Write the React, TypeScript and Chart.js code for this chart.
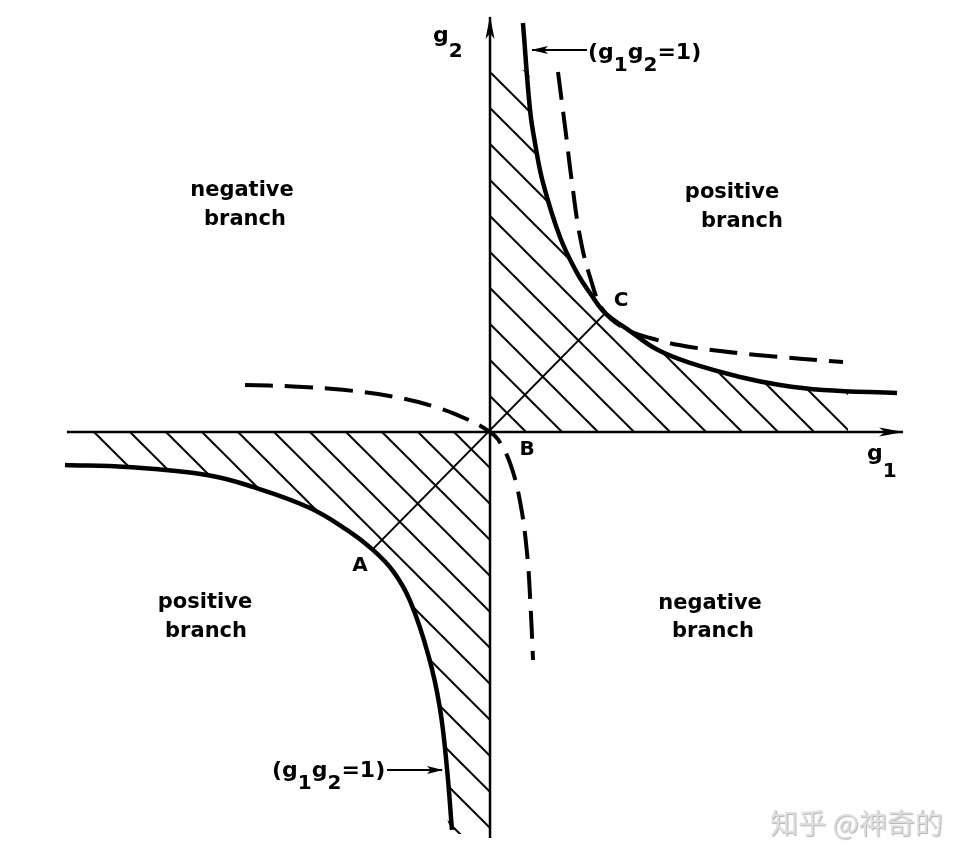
import React, { useEffect, useRef } from "react";
import { Chart, registerables } from "chart.js";

Chart.register(...registerables);

type P = [number, number];

// ---- values (g1, g2) ----
// solid boundary g1*g2 = 1, first quadrant
const boundaryQ1: P[] = [
  [0.284, 3.526], [0.345, 2.776], [0.388, 2.491], [0.457, 2.147], [0.603, 1.681],
  [0.75, 1.371], [0.862, 1.198], [0.991, 1.026], [1.207, 0.87], [1.44, 0.71],
  [1.724, 0.595], [2.155, 0.474], [2.5, 0.405], [2.871, 0.362], [3.509, 0.336],
];
// solid boundary g1*g2 = 1, third quadrant
const boundaryQ3: P[] = [
  [-3.664, -0.284], [-3.129, -0.302], [-2.44, -0.371], [-2.043, -0.474], [-1.552, -0.655],
  [-1.233, -0.845], [-1.009, -1.017], [-0.836, -1.2], [-0.69, -1.455], [-0.53, -1.93],
  [-0.432, -2.38], [-0.371, -2.9], [-0.328, -3.431],
];
// dashed curve, first quadrant branch
const dashedQ1: P[] = [
  [0.586, 3.103], [0.647, 2.629], [0.707, 2.147], [0.776, 1.681], [0.862, 1.336],
  [0.974, 1.052], [1.147, 0.9], [1.379, 0.81], [1.724, 0.733], [2.302, 0.664], [3.043, 0.603],
];
// dashed curve, branch through the origin (2nd -> 4th quadrant)
const dashedQ2Q4: P[] = [
  [-2.112, 0.405], [-1.698, 0.392], [-1.267, 0.363], [-0.836, 0.305], [-0.491, 0.222],
  [-0.198, 0.11], [0, 0], [0.07, -0.065], [0.172, -0.267], [0.259, -0.6],
  [0.319, -1.043], [0.348, -1.474], [0.371, -1.966],
];
// limits of the hatched (stable) regions
const hatchTopQ1: P[] = [[0, 3.1], [0.319, 3.1]];
const hatchEndQ1: P = [3.086, 0.353];
const hatchStartQ3: P = [-3.43, -0.292];
const hatchBottomQ3: P = [0, -3.431];
// straight line A - B - C
const lineAC: P[] = [[-1.01, -1.01], [0.99, 1.02]];
// axes
const g1Axis: P[] = [[-3.647, 0], [3.56, 0]];
const g2Axis: P[] = [[0, -3.5], [0, 3.578]];
// callout arrows
const calloutTopArrow: P[] = [[0.836, 3.293], [0.362, 3.293]];
const calloutBottomArrow: P[] = [[-0.888, -2.914], [-0.414, -2.914]];
// visible window
const g1Range: P = [-4.224, 4.172];
const g2Range: P = [-3.716, 3.724];

// ---- texts ----
const regionNames = ["negative branch", "positive branch", "positive branch", "negative branch"];
const pointNames = ["A", "B", "C"];
const calloutRuns = [
  { t: "(", sub: false }, { t: "g", sub: false }, { t: "1", sub: true },
  { t: "g", sub: false }, { t: "2", sub: true }, { t: "=1)", sub: false },
];
const g1Label = [{ t: "g", sub: false }, { t: "1", sub: true }];
const g2Label = [{ t: "g", sub: false }, { t: "2", sub: true }];
const watermark = "知乎 @神奇的";

// ---- annotation placement (data coordinates) ----
const regionAnchors: P[][] = [
  [[-2.138, 2.034], [-2.112, 1.784]],
  [[2.086, 2.017], [2.172, 1.767]],
  [[-2.457, -1.517], [-2.448, -1.767]],
  [[1.897, -1.526], [1.922, -1.767]],
];
const pointAnchors: P[] = [[-1.121, -1.155], [0.319, -0.155], [1.129, 1.129]];
const calloutAnchors: P[] = [[0.845, 3.216], [-1.879, -2.974]];
const g1LabelAnchor: P = [3.25, -0.241];
const g2LabelAnchor: P = [-0.491, 3.362];

const FONT = '"DejaVu Sans", sans-serif';

const toXY = (a: P[]) => a.map(([x, y]) => ({ x, y }));

function makeHatch(): CanvasPattern {
  const s = 36;
  const c = document.createElement("canvas");
  c.width = s;
  c.height = s;
  const g = c.getContext("2d")!;
  g.strokeStyle = "#000";
  g.lineWidth = 2;
  for (const d of [-s, 0, s]) {
    g.beginPath();
    g.moveTo(-4, -4 + d);
    g.lineTo(s + 4, s + 4 + d);
    g.stroke();
  }
  return g.createPattern(c, "repeat")!;
}

function drawRuns(ctx: CanvasRenderingContext2D, x: number, y: number, runs: any[], main: number, sub: number, drop: number) {
  let cx = x;
  ctx.textAlign = "left";
  ctx.textBaseline = "alphabetic";
  for (const r of runs) {
    ctx.font = `bold ${r.sub ? sub : main}px ${FONT}`;
    ctx.fillText(r.t, cx, r.sub ? y + drop : y);
    cx += ctx.measureText(r.t).width;
  }
}

export default function App() {
  const ref = useRef<HTMLCanvasElement>(null);

  useEffect(() => {
    const hatch = makeHatch();

    const stableQ1: P[] = [
      ...hatchTopQ1,
      ...boundaryQ1.filter(([x, y]) => y < hatchTopQ1[0][1] && x < hatchEndQ1[0]),
      hatchEndQ1,
    ];
    const stableQ3: P[] = [
      hatchStartQ3,
      ...boundaryQ3.filter(([x]) => x > hatchStartQ3[0]),
      hatchBottomQ3,
    ];

    const base = { pointRadius: 0, pointHoverRadius: 0, borderColor: "#000", fill: false, tension: 0 };
    const curve = { ...base, tension: 0.4, borderWidth: 4.5 };
    const dashed = { ...curve, borderWidth: 4, borderDash: [28, 12] };

    const overlay = {
      id: "overlay",
      beforeDatasetsDraw(chart: any) {
        const ox = chart.scales.x.getPixelForValue(0);
        const oy = chart.scales.y.getPixelForValue(0);
        hatch.setTransform(new DOMMatrix([1, 0, 0, 1, ox, oy]));
      },
      afterDatasetsDraw(chart: any) {
        const ctx: CanvasRenderingContext2D = chart.ctx;
        const X = (v: number) => chart.scales.x.getPixelForValue(v);
        const Y = (v: number) => chart.scales.y.getPixelForValue(v);
        ctx.save();
        ctx.fillStyle = "#000";
        // arrowheads
        chart.data.datasets.forEach((ds: any, i: number) => {
          const ah = ds.arrowHead;
          if (!ah) return;
          const pts = chart.getDatasetMeta(i).data;
          const a = pts[pts.length - 2];
          const b = pts[pts.length - 1];
          const ang = Math.atan2(b.y - a.y, b.x - a.x);
          ctx.save();
          ctx.translate(b.x, b.y);
          ctx.rotate(ang);
          ctx.beginPath();
          ctx.moveTo(1, 0);
          ctx.lineTo(-ah.len, -ah.half);
          ctx.lineTo(-ah.len * 0.75, 0);
          ctx.lineTo(-ah.len, ah.half);
          ctx.closePath();
          ctx.fill();
          ctx.restore();
        });
        // region labels
        ctx.font = `bold 21px ${FONT}`;
        ctx.textAlign = "center";
        ctx.textBaseline = "alphabetic";
        regionNames.forEach((name, i) => {
          name.split(" ").forEach((word, j) => {
            const [gx, gy] = regionAnchors[i][j];
            ctx.fillText(word, X(gx), Y(gy));
          });
        });
        // point labels
        ctx.font = `bold 20px ${FONT}`;
        ctx.textBaseline = "middle";
        pointNames.forEach((n, i) => ctx.fillText(n, X(pointAnchors[i][0]), Y(pointAnchors[i][1])));
        // callouts
        calloutAnchors.forEach(([gx, gy]) => drawRuns(ctx, X(gx), Y(gy), calloutRuns, 22, 20, 12));
        // axis labels
        drawRuns(ctx, X(g2LabelAnchor[0]), Y(g2LabelAnchor[1]), g2Label, 22, 20, 15);
        drawRuns(ctx, X(g1LabelAnchor[0]), Y(g1LabelAnchor[1]), g1Label, 22, 20, 17);
        // watermark
        ctx.font = `28px "Noto Sans CJK SC", sans-serif`;
        ctx.textAlign = "left";
        ctx.textBaseline = "alphabetic";
        ctx.shadowColor = "rgba(0,0,0,0.3)";
        ctx.shadowOffsetX = 1;
        ctx.shadowOffsetY = 1;
        ctx.shadowBlur = 1;
        ctx.fillStyle = "#dedede";
        ctx.fillText(watermark, chart.width - 204, chart.height - 29);
        ctx.restore();
      },
    };

    const chart = new Chart(ref.current!, {
      type: "line",
      data: {
        datasets: [
          { ...base, data: toXY(stableQ1), borderWidth: 0, borderColor: "transparent", backgroundColor: hatch, fill: "origin", tension: 0.4, order: 10 },
          { ...base, data: toXY(stableQ3), borderWidth: 0, borderColor: "transparent", backgroundColor: hatch, fill: "origin", tension: 0.4, order: 10 },
          { ...base, data: toXY(lineAC), borderWidth: 2, order: 6 },
          { ...base, data: toXY(g1Axis), borderWidth: 2.5, order: 5, arrowHead: { len: 24, half: 4.5 } },
          { ...base, data: toXY(g2Axis), borderWidth: 2.5, order: 5, arrowHead: { len: 22, half: 4.5 } },
          { ...curve, data: toXY(boundaryQ1), order: 2 },
          { ...curve, data: toXY(boundaryQ3), order: 2 },
          { ...dashed, data: toXY(dashedQ1), order: 3 },
          { ...dashed, data: toXY(dashedQ2Q4), order: 3 },
          { ...base, data: toXY(calloutTopArrow), borderWidth: 2, order: 4, arrowHead: { len: 16, half: 4 } },
          { ...base, data: toXY(calloutBottomArrow), borderWidth: 2, order: 4, arrowHead: { len: 15, half: 4 } },
        ] as any,
      },
      options: {
        animation: false,
        responsive: false,
        devicePixelRatio: 1,
        layout: { padding: 0 },
        events: [],
        plugins: { legend: { display: false }, tooltip: { enabled: false }, title: { display: false } },
        scales: {
          x: { type: "linear", min: g1Range[0], max: g1Range[1], bounds: "data", display: false },
          y: { type: "linear", min: g2Range[0], max: g2Range[1], bounds: "data", display: false },
        },
      },
      plugins: [overlay],
    });
    return () => chart.destroy();
  }, []);

  return (
    <div style={{ position: "absolute", left: 0, top: 0, width: 974, height: 863, background: "#fff" }}>
      <canvas ref={ref} width={974} height={863} style={{ display: "block" }} />
    </div>
  );
}
